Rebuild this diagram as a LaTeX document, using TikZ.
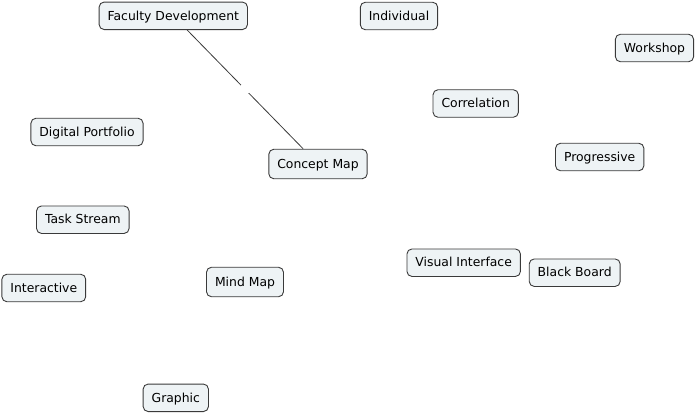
\documentclass[tikz,border=0pt]{standalone}
\usepackage{fontspec}
\setmainfont{DejaVu Sans}
\usepackage{tikz}
\usepackage{xcolor}
\usetikzlibrary{positioning}
\definecolor{boxfill}{HTML}{EEF3F5}
\definecolor{boxline}{HTML}{3A3A3A}

\begin{document}
\begin{tikzpicture}[x=1pt,y=-1pt,
      every node/.style={font=\fontsize{12.4}{14}\selectfont},
      concept/.style={draw=boxline,fill=boxfill,line width=0.9pt,rounded corners=5pt,
         inner xsep=8.5pt,inner ysep=0pt,minimum height=27.5pt,text height=10.5pt,text depth=2pt},
      linkgap/.style={fill=white,inner sep=4pt}]
      % Frame
      \useasboundingbox (0,0) rectangle (697,416);
      % Concepts
      \node[concept] (faculty) at (173.3,15.8) {Faculty Development};
      \node[concept] (individual) at (399,16) {Individual};
      \node[concept] (workshop) at (654.5,48) {Workshop};
      \node[concept] (correlation) at (475.7,103.5) {Correlation};
      \node[concept] (portfolio) at (87,132) {Digital Portfolio};
      \node[concept] (progressive) at (599.7,157) {Progressive};
      \node[concept,minimum height=29.5pt] (conceptmap) at (318,164) {Concept Map};
      \node[concept] (taskstream) at (82.8,219.7) {Task Stream};
      \node[concept] (visual) at (463.7,262.7) {Visual Interface};
      \node[concept] (blackboard) at (574.7,272.7) {Black Board};
      \node[concept] (interactive) at (43.8,288) {Interactive};
      \node[concept,minimum height=29.5pt] (mindmap) at (245,282) {Mind Map};
      \node[concept] (graphic) at (175.8,397.8) {Graphic};
      % Link with empty label
      \draw[line width=0.8pt,boxline] (faculty) -- node[linkgap] (facultylink) {} (conceptmap);
    \end{tikzpicture}
\end{document}
